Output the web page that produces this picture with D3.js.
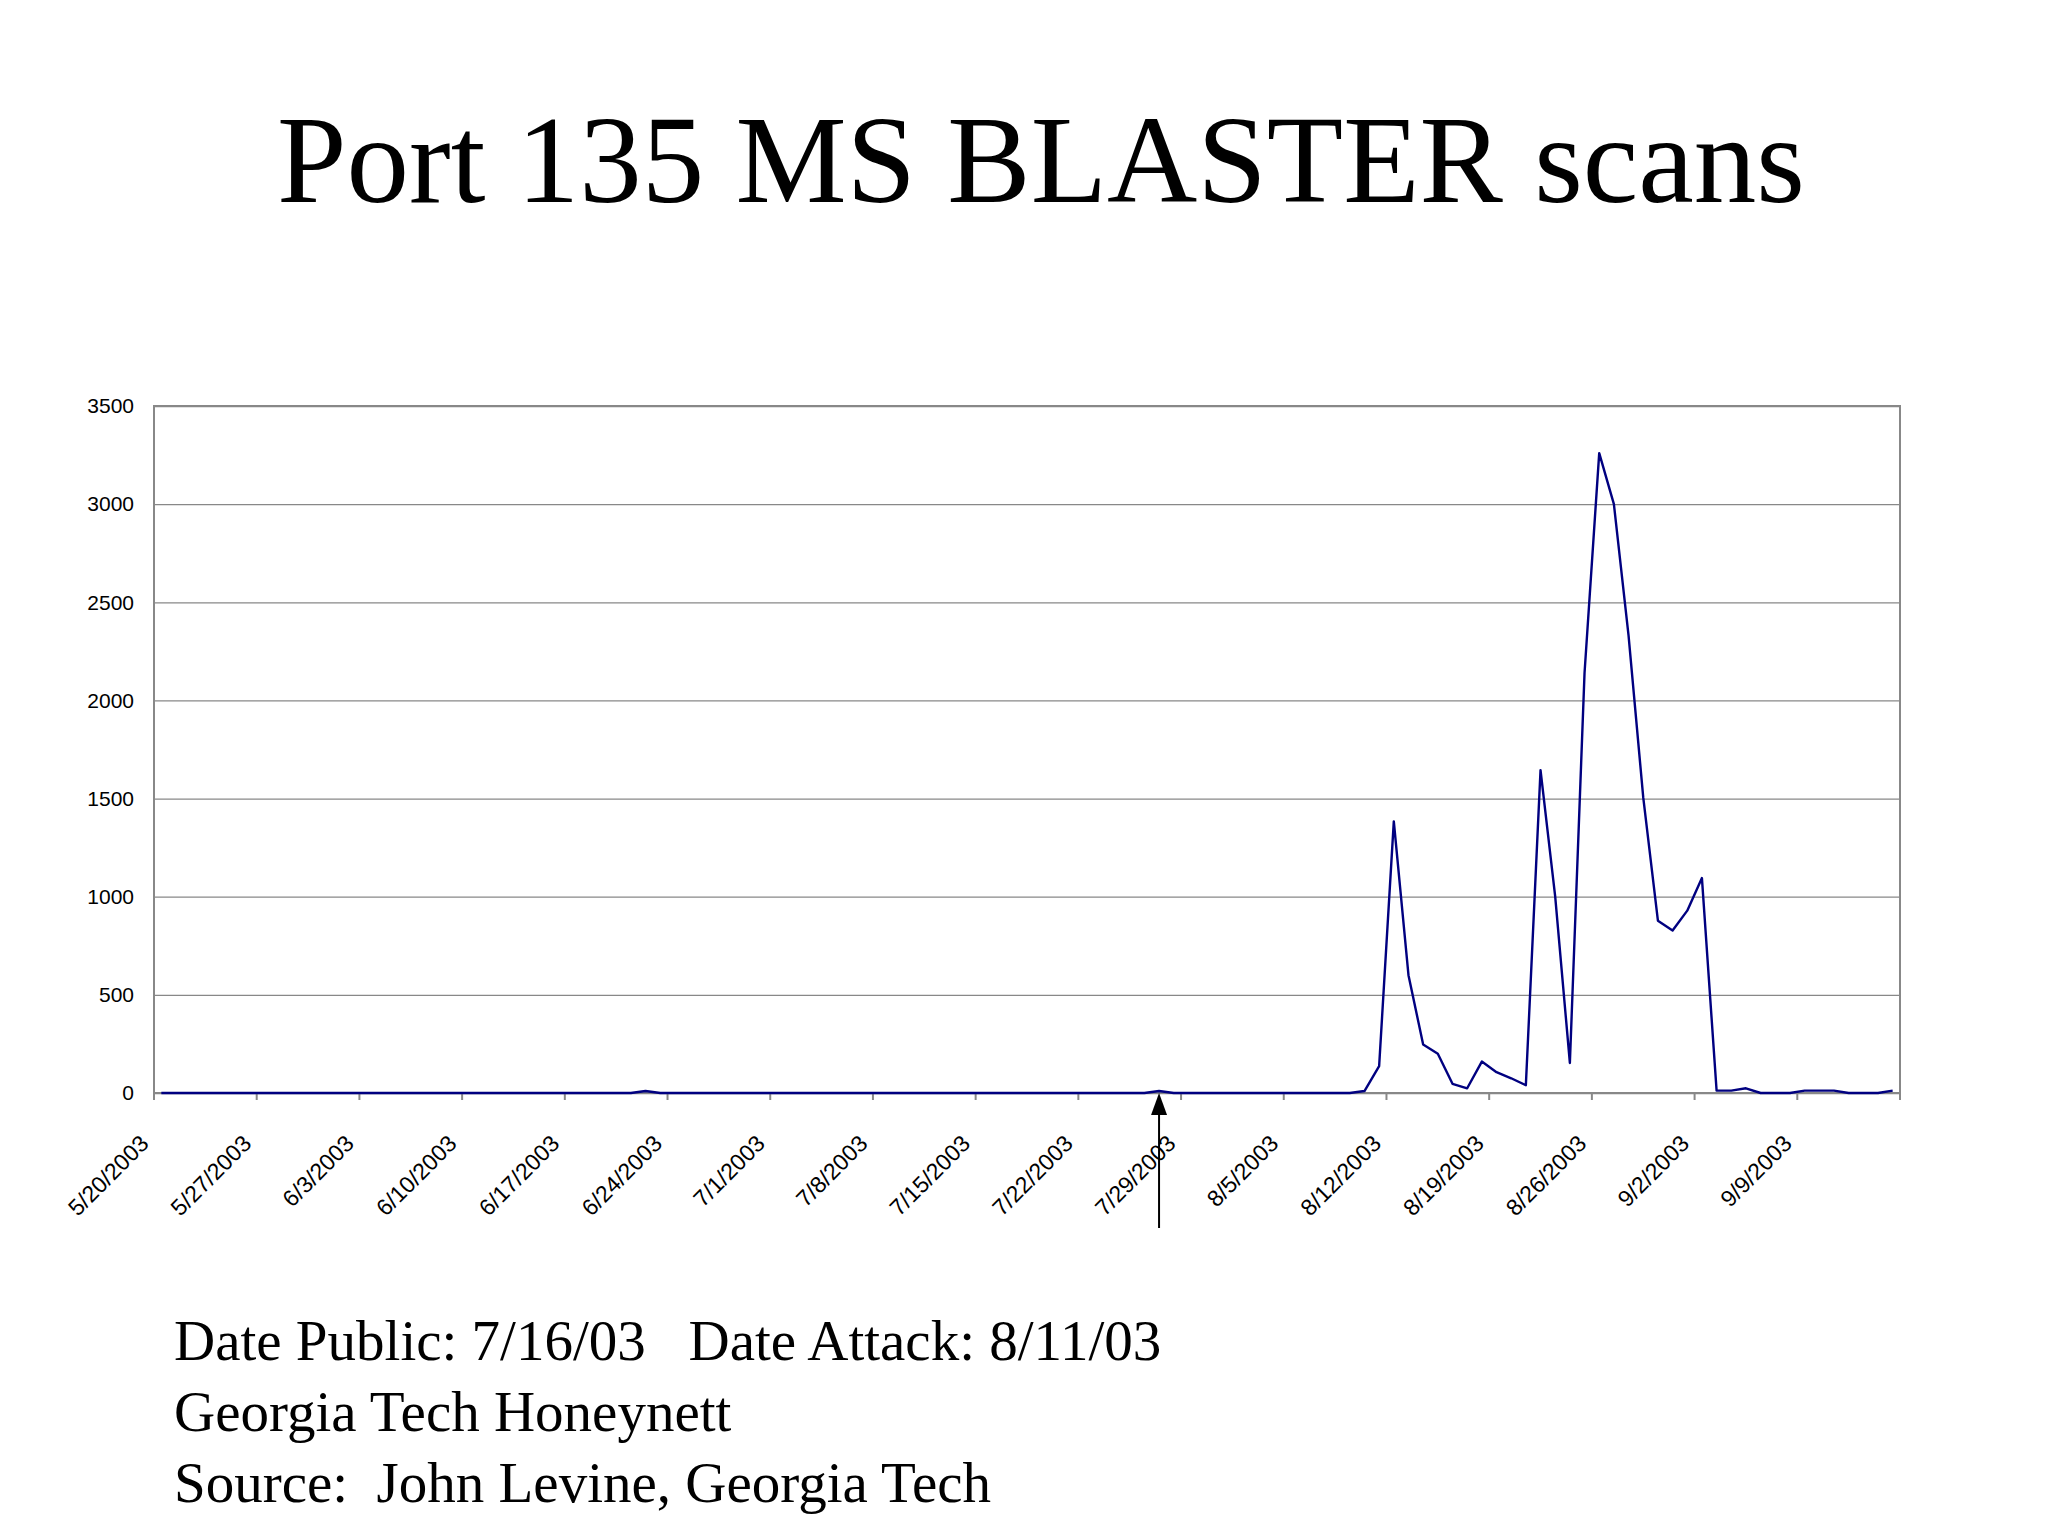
<!DOCTYPE html>
<html>
<head>
<script src="https://cdn.jsdelivr.net/npm/d3@7"></script>
<style>
 body { margin: 0; background: #fff; }
 .ax text { font-family: "Liberation Sans", Arial, sans-serif; font-size: 21px; fill: #000; }
 .xl text { font-size: 23px; }
</style>
</head>
<body>
<svg id="chart" width="2048" height="1536"></svg>
<script>
// daily scan counts, 5/20/2003 .. 9/15/2003
var counts = [
  0,0,0,0,0,0,0,0,0,0,
  0,0,0,0,0,0,0,0,0,0,
  0,0,0,0,0,0,0,0,0,0,
  0,0,0,10,0,0,0,0,0,0,
  0,0,0,0,0,0,0,0,0,0,
  0,0,0,0,0,0,0,0,0,0,
  0,0,0,0,0,0,0,0,10,0,
  0,0,0,0,0,0,0,0,0,0,
  0,0,
  10,137,1384,600,247,200,47,24,160,106,
  75,40,1645,1000,153,2141,3260,3000,2330,1506,
  878,828,929,1095,12,12,24,0,0,0,
  12,12,12,0,0,0,12
];
var tickLabels = ["5/20/2003","5/27/2003","6/3/2003","6/10/2003","6/17/2003","6/24/2003",
  "7/1/2003","7/8/2003","7/15/2003","7/22/2003","7/29/2003","8/5/2003","8/12/2003",
  "8/19/2003","8/26/2003","9/2/2003","9/9/2003"];
var yTicks = [0,500,1000,1500,2000,2500,3000,3500];
var footLines = ["Date Public: 7/16/03   Date Attack: 8/11/03", "Georgia Tech Honeynett", "Source:  John Levine, Georgia Tech"];
var arrowIndex = 68;

var svg = d3.select("#chart");
var L = 154, R = 1900, T = 406, B = 1093;

var x = d3.scaleBand().domain(d3.range(counts.length)).range([L, R]);
var y = d3.scaleLinear().domain([0, 3500]).range([B, T]);

svg.append("text").attr("x", 1041).attr("y", 202).attr("text-anchor", "middle")
  .style("font-family", "'Liberation Serif', 'Times New Roman', serif").style("font-size", "125px")
  .text("Port 135 MS BLASTER scans");

// gridlines + y axis
var yAxis = svg.append("g").attr("class", "ax").attr("transform", "translate(" + L + ",0)")
  .call(d3.axisLeft(y).tickValues(yTicks).tickFormat(d3.format("d")).tickSize(-(R - L)).tickSizeOuter(0).tickPadding(20));
yAxis.select(".domain").remove();
yAxis.selectAll("line").attr("stroke", "#888").attr("stroke-width", 1.3);

svg.append("rect").attr("x", L).attr("y", T).attr("width", R - L).attr("height", B - T)
  .attr("fill", "none").attr("stroke", "#888").attr("stroke-width", 2);

// x ticks and labels at category boundaries every 7 days
var xg = svg.append("g").attr("class", "ax xl");
var tickIdx = d3.range(0, counts.length, 7);
xg.selectAll("line.t").data(tickIdx.concat([counts.length])).enter().append("line")
  .attr("x1", function(d){ return L + d * x.step(); }).attr("x2", function(d){ return L + d * x.step(); })
  .attr("y1", B).attr("y2", B + 7).attr("stroke", "#888").attr("stroke-width", 2);
xg.selectAll("text").data(tickLabels).enter().append("text")
  .attr("text-anchor", "end")
  .attr("transform", function(d, i){ return "translate(" + (L + i * 7 * x.step() - 4) + "," + (B + 52) + ") rotate(-45)"; })
  .text(function(d){ return d; });

var line = d3.line().x(function(d, i){ return x(i) + x.bandwidth() / 2; }).y(function(d){ return y(d); });
svg.append("path").datum(counts).attr("d", line).attr("fill", "none")
  .attr("stroke", "#000080").attr("stroke-width", 2.4).attr("stroke-linejoin", "round");

// arrow marking first sighting
var ax = x(arrowIndex) + x.bandwidth() / 2;
svg.append("line").attr("x1", ax).attr("x2", ax).attr("y1", 1228).attr("y2", B + 12)
  .attr("stroke", "#000").attr("stroke-width", 2);
svg.append("path").attr("d", "M" + ax + "," + B + " L" + (ax - 8) + "," + (B + 22) + " L" + (ax + 8) + "," + (B + 22) + " Z")
  .attr("fill", "#000");

svg.selectAll("text.foot").data(footLines).enter().append("text").attr("class", "foot")
  .attr("x", 174).attr("y", function(d, i){ return 1360 + i * 71; })
  .style("font-family", "'Liberation Serif', 'Times New Roman', serif").style("font-size", "57px")
  .style("white-space", "pre").attr("xml:space", "preserve")
  .text(function(d){ return d; });
</script>
</body>
</html>
